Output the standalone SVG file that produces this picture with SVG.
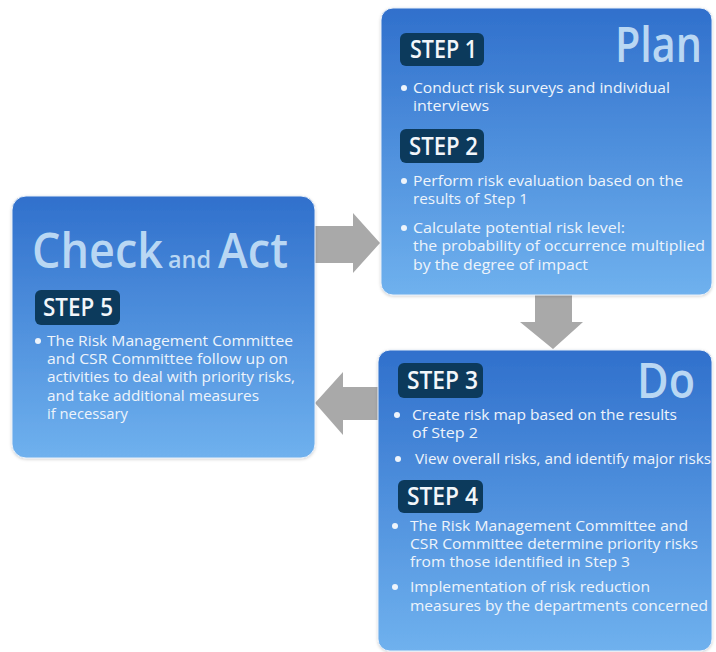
<svg xmlns="http://www.w3.org/2000/svg" width="716" height="652" viewBox="0 0 716 652">
<defs>
<linearGradient id="boxg" x1="0" y1="0" x2="0" y2="1">
<stop offset="0" stop-color="#3070cc"/>
<stop offset="1" stop-color="#6fb1ee"/>
</linearGradient>
<filter id="sh" x="-5%" y="-5%" width="110%" height="110%">
<feDropShadow dx="0" dy="1" stdDeviation="1.5" flood-color="#000" flood-opacity="0.18"/>
</filter>
</defs>
<style>
.box{fill:url(#boxg);stroke:#e6eef8;stroke-width:1;filter:url(#sh)}
.tag{fill:#0c3a5c}
.tagt{font-family:"Open Sans","Noto Sans",sans-serif;font-size:25px;fill:#f2f6fa;font-weight:600}
.big{font-family:"Open Sans","Noto Sans",sans-serif;font-size:48px;fill:#b9d7f3;font-weight:600}
.mid{font-family:"Open Sans","Noto Sans",sans-serif;font-size:24px;fill:#b9d7f3;font-weight:600}
.t{font-family:"Open Sans","Noto Sans",sans-serif;font-size:14px;fill:#eef4fb}
.dot{fill:#eef4fb}
.arr{fill:#a9a9a9}
</style>
<rect width="716" height="652" fill="#ffffff"/>
<g id="connectors">
<polygon class="arr" points="315,226 353,226 353,213 380,243 353,273 353,263 315,263"/>
<polygon class="arr" points="535,295 572,295 572,322 583,322 553,349 520,322 535,322"/>
<polygon class="arr" points="378,387 343,387 343,372 315,403 343,435 343,420 378,420"/>
</g>
<g id="plan">
<rect class="box" x="381" y="8" width="331" height="287" rx="12"/>
<text class="big" x="615" y="62" textLength="87" lengthAdjust="spacingAndGlyphs">Plan</text>
<rect class="tag" x="400" y="33" width="84" height="33" rx="6"/>
<text class="tagt" x="410" y="58" textLength="67" lengthAdjust="spacingAndGlyphs">STEP 1</text>
<circle class="dot" cx="404" cy="88" r="3"/>
<text class="t" x="413" y="93" textLength="257" lengthAdjust="spacingAndGlyphs">Conduct risk surveys and individual</text>
<text class="t" x="413" y="111" textLength="76" lengthAdjust="spacingAndGlyphs">interviews</text>
<rect class="tag" x="400" y="129" width="84" height="34" rx="6"/>
<text class="tagt" x="409" y="155" textLength="69" lengthAdjust="spacingAndGlyphs">STEP 2</text>
<circle class="dot" cx="404" cy="181" r="3"/>
<text class="t" x="413" y="186" textLength="270" lengthAdjust="spacingAndGlyphs">Perform risk evaluation based on the</text>
<text class="t" x="413" y="204" textLength="115" lengthAdjust="spacingAndGlyphs">results of Step 1</text>
<circle class="dot" cx="404" cy="228" r="3"/>
<text class="t" x="413" y="233" textLength="212" lengthAdjust="spacingAndGlyphs">Calculate potential risk level:</text>
<text class="t" x="413" y="251" textLength="292" lengthAdjust="spacingAndGlyphs">the probability of occurrence multiplied</text>
<text class="t" x="413" y="270" textLength="175" lengthAdjust="spacingAndGlyphs">by the degree of impact</text>
</g>
<g id="check">
<rect class="box" x="12" y="196" width="303" height="262" rx="14"/>
<text class="big" x="32" y="268" textLength="131" lengthAdjust="spacingAndGlyphs">Check</text>
<text class="mid" x="168" y="268" textLength="43" lengthAdjust="spacingAndGlyphs">and</text>
<text class="big" x="218" y="268" textLength="70" lengthAdjust="spacingAndGlyphs">Act</text>
<rect class="tag" x="35" y="290" width="85" height="35" rx="6"/>
<text class="tagt" x="43" y="316" textLength="70" lengthAdjust="spacingAndGlyphs">STEP 5</text>
<circle class="dot" cx="38" cy="341" r="3"/>
<text class="t" x="47" y="346" textLength="246" lengthAdjust="spacingAndGlyphs">The Risk Management Committee</text>
<text class="t" x="47" y="364" textLength="241" lengthAdjust="spacingAndGlyphs">and CSR Committee follow up on</text>
<text class="t" x="47" y="382" textLength="248" lengthAdjust="spacingAndGlyphs">activities to deal with priority risks,</text>
<text class="t" x="47" y="401" textLength="212" lengthAdjust="spacingAndGlyphs">and take additional measures</text>
<text class="t" x="47" y="419" textLength="81" lengthAdjust="spacingAndGlyphs">if necessary</text>
</g>
<g id="do">
<rect class="box" x="378" y="350" width="334" height="301" rx="12"/>
<text class="big" x="637" y="398" textLength="58" lengthAdjust="spacingAndGlyphs">Do</text>
<rect class="tag" x="398" y="363" width="85" height="35" rx="6"/>
<text class="tagt" x="407" y="389" textLength="71" lengthAdjust="spacingAndGlyphs">STEP 3</text>
<circle class="dot" cx="397" cy="415" r="3"/>
<text class="t" x="412" y="420" textLength="265" lengthAdjust="spacingAndGlyphs">Create risk map based on the results</text>
<text class="t" x="412" y="438" textLength="66" lengthAdjust="spacingAndGlyphs">of Step 2</text>
<circle class="dot" cx="398" cy="459" r="3"/>
<text class="t" x="415" y="464" textLength="296" lengthAdjust="spacingAndGlyphs">View overall risks, and identify major risks</text>
<rect class="tag" x="398" y="480" width="85" height="33" rx="6"/>
<text class="tagt" x="407" y="505" textLength="71" lengthAdjust="spacingAndGlyphs">STEP 4</text>
<circle class="dot" cx="395" cy="526" r="3"/>
<text class="t" x="410" y="531" textLength="278" lengthAdjust="spacingAndGlyphs">The Risk Management Committee and</text>
<text class="t" x="410" y="549" textLength="288" lengthAdjust="spacingAndGlyphs">CSR Committee determine priority risks</text>
<text class="t" x="410" y="567" textLength="220" lengthAdjust="spacingAndGlyphs">from those identified in Step 3</text>
<circle class="dot" cx="395" cy="587" r="3"/>
<text class="t" x="410" y="592" textLength="240" lengthAdjust="spacingAndGlyphs">Implementation of risk reduction</text>
<text class="t" x="410" y="611" textLength="298" lengthAdjust="spacingAndGlyphs">measures by the departments concerned</text>
</g>
</svg>
